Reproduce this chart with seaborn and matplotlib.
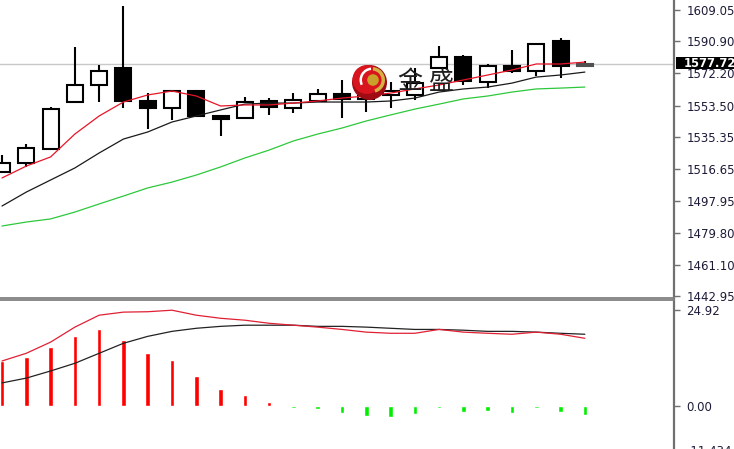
import numpy as np
import matplotlib
matplotlib.use("Agg")
import matplotlib.pyplot as plt
import seaborn as sns
from matplotlib.patches import Rectangle, Circle, Wedge

# daily bars, oldest first (last one is the live bar)
opens = [1515.0, 1520.2, 1528.3, 1555.6, 1565.5, 1575.4, 1556.2, 1552.1, 1562.0, 1547.5,
         1546.3, 1556.2, 1552.1, 1556.2, 1560.3, 1557.3, 1559.7, 1559.7, 1575.4, 1581.7,
         1567.2, 1576.5, 1573.6, 1591.0, 1576.5]
highs = [1524.8, 1531.2, 1552.7, 1587.6, 1577.1, 1611.4, 1560.8, 1562.6, 1562.3, 1547.6,
         1558.5, 1557.9, 1560.8, 1563.2, 1568.4, 1559.7, 1567.2, 1575.4, 1588.1, 1582.9,
         1577.7, 1585.8, 1589.9, 1592.8, 1579.4]
lows = [1514.4, 1517.9, 1527.7, 1555.3, 1555.6, 1552.1, 1539.9, 1545.2, 1546.9, 1535.9,
        1546.0, 1548.0, 1549.2, 1556.0, 1546.3, 1549.8, 1552.1, 1556.8, 1575.0, 1565.5,
        1563.7, 1572.5, 1570.7, 1569.5, 1576.3]
closes = [1520.2, 1528.9, 1551.5, 1565.5, 1573.6, 1556.2, 1552.1, 1562.0, 1547.5, 1545.7,
          1555.6, 1552.7, 1556.8, 1560.3, 1557.3, 1559.1, 1562.0, 1566.7, 1581.7, 1567.8,
          1576.5, 1573.6, 1589.3, 1576.5, 1577.72]

ma_fast = [1511.5, 1518.4, 1523.7, 1537.0, 1547.5, 1555.6, 1559.7, 1562.0, 1559.1, 1553.3,
           1553.9, 1553.9, 1555.0, 1556.2, 1557.9, 1559.1, 1560.8, 1563.2, 1565.5, 1568.4,
           1571.3, 1574.2, 1577.7, 1577.7, 1578.8]
ma_mid = [1495.2, 1503.3, 1510.3, 1517.3, 1526.0, 1534.1, 1538.2, 1544.0, 1547.5, 1551.0,
          1554.4, 1555.0, 1555.0, 1555.6, 1555.6, 1555.6, 1556.2, 1557.9, 1561.4, 1563.2,
          1564.3, 1566.6, 1570.1, 1571.3, 1573.0]
ma_slow = [1483.6, 1485.9, 1487.7, 1491.7, 1496.4, 1501.0, 1505.7, 1509.1, 1513.2, 1517.9,
           1523.1, 1527.7, 1533.0, 1537.0, 1540.5, 1544.6, 1548.1, 1551.5, 1554.4, 1557.4,
           1559.1, 1561.4, 1563.2, 1563.7, 1564.3]

macd_hist = [11.7, 12.7, 15.3, 18.1, 19.9, 17.1, 13.7, 11.9, 7.8, 4.4, 2.85, 1.0,
             -0.5, -0.8, -1.8, -2.6, -2.85, -2.1, -0.5, -1.55, -1.3, -1.8, -0.4, -1.55, -2.3]
macd_main = [11.7, 13.7, 16.6, 20.5, 23.6, 24.4, 24.5, 24.9, 23.6, 22.8, 22.3, 21.5,
             21.0, 20.5, 19.9, 19.2, 18.9, 18.9, 19.9, 19.2, 18.9, 18.65, 19.2, 18.65, 17.6]
macd_signal = [6.0, 7.25, 9.1, 11.1, 13.7, 16.3, 18.1, 19.4, 20.2, 20.7, 21.0, 21.0,
               21.0, 20.7, 20.7, 20.5, 20.2, 19.9, 19.9, 19.7, 19.4, 19.4, 19.2, 18.9, 18.65]

price_ticks = [1609.05, 1590.90, 1572.20, 1553.50, 1535.35, 1516.65, 1497.95, 1479.80, 1461.10, 1442.95]
macd_ticks = [24.92, 0.00, -11.434]
macd_labels = ["24.92", "0.00", "-11.434"]
last_price = 1577.72

sns.set_theme(style="white")
plt.rcParams['font.family'] = ['DejaVu Sans']

W, H = 734, 449
fig = plt.figure(figsize=(W / 100, H / 100), dpi=100)
fig.patch.set_facecolor("white")

ax = fig.add_axes([0, (H - 298) / H, 674 / W, 298 / H])
ax2 = fig.add_axes([0, (H - 450) / H, 674 / W, 150 / H])

x = np.arange(len(opens))
xlim = (-0.082, 27.67)
tick_col = "#1c1c38"
spine_col = "#707070"

# current price line
ax.axhline(last_price, color="#c8c8c8", lw=1, zorder=1)

# candles
body_w = 0.66
for i in x:
    o, h, l, c = opens[i], highs[i], lows[i], closes[i]
    ax.vlines(i, l, h, color="black", lw=1.5, zorder=3)
    lo, hi = min(o, c), max(o, c)
    if i == len(opens) - 1:
        fc, ec = "#9a9a9a", "#505050"
    elif c >= o:
        fc, ec = "white", "black"
    else:
        fc, ec = "black", "black"
    ax.add_patch(Rectangle((i - body_w / 2, lo), body_w, max(hi - lo, 0.4),
                           fc=fc, ec=ec, lw=1.5, zorder=4))

sns.lineplot(x=x, y=ma_slow, ax=ax, color="#2ec83c", lw=0.9, zorder=2)
sns.lineplot(x=x, y=ma_mid, ax=ax, color="#1a1a1a", lw=0.9, zorder=5)
sns.lineplot(x=x, y=ma_fast, ax=ax, color="#e81428", lw=0.9, zorder=5)

ax.set_xlim(*xlim)
ax.set_ylim(1441.78, 1614.86)
ax.yaxis.tick_right()
ax.set_yticks(price_ticks)
ax.set_yticklabels([f"{v:.2f}" for v in price_ticks])
ax.set_xticks([])
ax.set_xlabel("")
ax.set_ylabel("")

# price tag for the live bar
ax.add_patch(Rectangle((676 / 674, 1574.6), 0.09, 7.3, transform=ax.get_yaxis_transform(),
                       fc="black", ec="none", clip_on=False, zorder=10))
ax.text(684 / 674, last_price, f"{last_price:.2f}", transform=ax.get_yaxis_transform(),
        ha="left", va="center", color="white", fontsize=8.3, fontweight="bold",
        clip_on=False, zorder=11)

# MACD panel
hist_cols = ["#ff0000" if v >= 0 else "#00ee00" for v in macd_hist]
ax2.bar(x, macd_hist, width=0.19, color=hist_cols, zorder=2)
sns.lineplot(x=x, y=macd_signal, ax=ax2, color="#222222", lw=0.9, zorder=3)
sns.lineplot(x=x, y=macd_main, ax=ax2, color="#e02034", lw=0.9, zorder=3)
ax2.set_xlim(*xlim)
ax2.set_ylim(-11.434, 27.55)
ax2.yaxis.tick_right()
ax2.set_yticks(macd_ticks)
ax2.set_yticklabels(macd_labels)
ax2.set_xticks([])
ax2.set_xlabel("")
ax2.set_ylabel("")

for a in (ax, ax2):
    a.spines["left"].set_visible(False)
    a.spines["right"].set_color(spine_col)
    a.spines["right"].set_linewidth(1.6)
    a.tick_params(axis="y", which="both", right=True, direction="out", length=4, width=1,
                  color=spine_col, labelsize=8.5, labelcolor=tick_col, pad=5)
ax.spines["top"].set_visible(False)
ax.spines["bottom"].set_color("#808080")
ax.spines["bottom"].set_linewidth(1.3)
ax2.spines["bottom"].set_visible(False)
ax2.spines["top"].set_color("#808080")
ax2.spines["top"].set_linewidth(1.3)

# watermark logo
tr = fig.dpi_scale_trans
def px(xp, yp):
    return (xp / 100, (H - yp) / 100)

fig.add_artist(Circle(px(369.5, 82.5), 0.175, transform=tr, fc="#a00c14", ec="none", zorder=20))
fig.add_artist(Circle(px(367, 79.5), 0.145, transform=tr, fc="#d8141e", ec="none", zorder=20))
fig.add_artist(Wedge(px(372, 80), 0.125, 95, 205, width=0.025, transform=tr, fc="white", ec="none", zorder=21))
fig.add_artist(Wedge(px(372, 80), 0.13, -75, 85, width=0.035, transform=tr, fc="#d6b040", ec="none", zorder=21))
fig.add_artist(Circle(px(373, 80), 0.058, transform=tr, fc="#c8a02a", ec="none", zorder=22))

cjk = ['Noto Sans CJK SC', 'DejaVu Sans']
fig.text(410 / W, (H - 82) / H, "金", family=cjk, fontsize=18,
         color="#1e1e1e", ha="center", va="center", zorder=23)
fig.text(441 / W, (H - 82) / H, "盛", family=cjk, fontsize=18,
         color="#1e1e1e", ha="center", va="center", zorder=23)

fig.savefig("out.png", dpi=100)
